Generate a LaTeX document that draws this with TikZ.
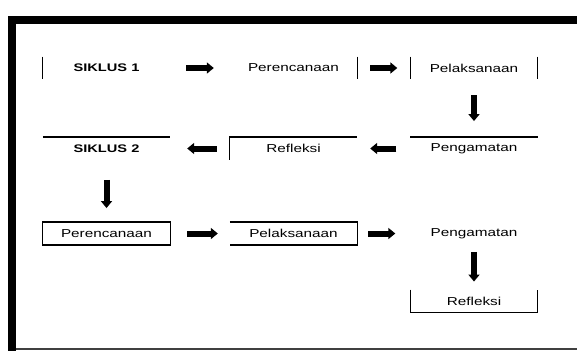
\documentclass[tikz,border=0pt]{standalone}
\usepackage{fontspec}
\setmainfont{Liberation Sans}[FakeStretch=1.33]
\usetikzlibrary{arrows.meta}
\begin{document}
\begin{tikzpicture}[x=1pt,y=-1pt,
 cell/.style={minimum width=127pt,minimum height=22.5pt,inner sep=0pt,font=\fontsize{11.5}{13}\selectfont},
 boldcell/.style={cell,font=\fontsize{11}{13}\selectfont\bfseries},
 edge/.style={line width=1.3pt},
 blk/.style={line width=6pt,-{Triangle[length=7pt,width=11pt]}}]
\useasboundingbox (0,0) rectangle (577,351);
% frame
\fill (8,16) rectangle (577,24);
\fill (8,16) rectangle (16,351);
\draw[line width=1.2pt,black!75] (16,349) -- (577,349);
% nodes
\node[boldcell] (s1) at (106.5,68) {SIKLUS 1};
\node[cell] (p1) at (293.5,68) {Perencanaan};
\node[cell] (l1) at (474,68) {Pelaksanaan};
\node[boldcell] (s2) at (106.5,148.5) {SIKLUS 2};
\node[cell] (r1) at (293.5,148.5) {Refleksi};
\node[cell] (g1) at (474,148.5) {Pengamatan};
\node[cell] (p2) at (106.5,233.5) {Perencanaan};
\node[cell] (l2) at (293.5,233.5) {Pelaksanaan};
\node[cell] (g2) at (474,233.5) {Pengamatan};
\node[cell] (r2) at (474,301) {Refleksi};
% box edges
\draw[edge] (s1.north west) -- (s1.south west);
\draw[edge] (p1.north east) -- (p1.south east);
\draw[edge] (l1.north west) -- (l1.south west) (l1.north east) -- (l1.south east);
\draw[edge] (s2.north west) -- (s2.north east);
\draw[edge] (r1.south west) -- (r1.north west) -- (r1.north east);
\draw[edge] (g1.north west) -- (g1.north east);
\draw[edge] (p2.north west) rectangle (p2.south east);
\draw[edge] (l2.north west) -- (l2.north east) -- (l2.south east) -- (l2.south west);
\draw[edge] (r2.north west) -- (r2.south west) -- (r2.south east) -- (r2.north east);
% arrows
\draw[blk,shorten <=16pt,shorten >=16pt] (s1.east) -- (p1.west);
\draw[blk,shorten <=13pt,shorten >=13pt] (p1.east) -- (l1.west);
\draw[blk,shorten <=16pt,shorten >=16pt] (l1.south) -- (g1.north);
\draw[blk,shorten <=14pt,shorten >=13pt] (g1.west) -- (r1.east);
\draw[blk,shorten <=13pt,shorten >=17pt] (r1.west) -- (s2.east);
\draw[blk,shorten <=20pt,shorten >=14pt] (s2.south) -- (p2.north);
\draw[blk,shorten <=17pt,shorten >=12pt] (p2.east) -- (l2.west);
\draw[blk,shorten <=11pt,shorten >=15pt] (l2.east) -- (g2.west);
\draw[blk,shorten <=7pt,shorten >=8pt] (g2.south) -- (r2.north);
\end{tikzpicture}
\end{document}
